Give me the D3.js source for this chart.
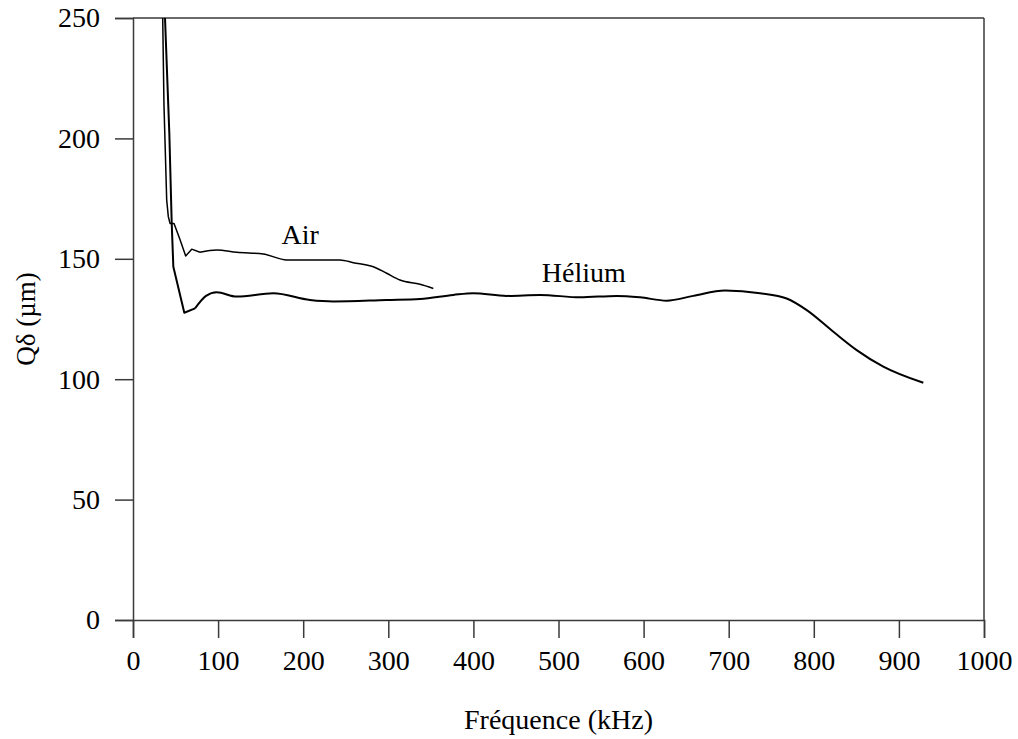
<!DOCTYPE html>
<html>
<head>
<meta charset="utf-8">
<script src="https://cdn.jsdelivr.net/npm/d3@7"></script>
<style>
  html, body { margin: 0; padding: 0; background: #fff; }
</style>
</head>
<body>
<svg id="chart" width="1018" height="739"></svg>
<script>
// ---- Data ----
const xTicks = [0, 100, 200, 300, 400, 500, 600, 700, 800, 900, 1000];
const yTicks = [0, 50, 100, 150, 200, 250];

const heliumFreq = [37.6, 42.7, 45.5, 47.4, 60.3, 72.9, 85.8, 98.4, 121.9, 164.9, 208, 235.4, 298.1, 337.3, 376.4, 399.9, 439.1, 478.3, 525.3, 568.4, 595.8, 627.1, 658.4, 695.7, 736.8, 768.1, 791.7, 823, 850.4, 881.7, 928.7];
const heliumVal  = [250, 202, 164.7, 146.7, 127.6, 129.4, 134.6, 136.1, 134.3, 135.7, 132.9, 132.3, 132.9, 133.3, 135, 135.7, 134.6, 135, 134, 134.6, 134, 132.6, 134.6, 136.8, 135.7, 133.5, 128.7, 119.7, 112.1, 105.2, 98.5];

const airFreq = [34.9, 36.4, 39.6, 41.5, 43.5, 48.2, 55.2, 61.9, 69, 78.7, 98.4, 121.9, 153.1, 180.6, 219.7, 243.2, 258.9, 282.4, 298.1, 313.7, 337.3, 352.9];
const airVal  = [250, 213.9, 174.4, 167.5, 164.7, 164.7, 158, 151.2, 154, 152.7, 153.7, 152.7, 152, 149.5, 149.5, 149.5, 148.4, 146.7, 144, 141.2, 139.4, 137.7];

const labelText = ["Air", "Hélium"];
const labelFreq = [174.6, 480.3];
const labelVal  = [156.1, 140.5];

const xTitle = "Fréquence (kHz)";
const yTitle = "Qδ (µm)";

// ---- Layout ----
const W = 1018, H = 739;
const margin = { left: 133, right: 34, top: 18, bottom: 119 };
const FONT = "Liberation Serif, Times New Roman, serif";
const svg = d3.select("#chart");
const x = d3.scaleLinear().domain([0, 1000]).range([margin.left, W - margin.right]);
const y = d3.scaleLinear().domain([0, 250]).range([H - margin.bottom, margin.top]);
const axisColor = "#3a3a3a";
const fs = 28;

// Frame (top and right)
svg.append("line").attr("x1", x(0)).attr("x2", x(1000)).attr("y1", y(250)).attr("y2", y(250))
  .attr("stroke", axisColor).attr("stroke-width", 1.5);
svg.append("line").attr("x1", x(1000)).attr("x2", x(1000)).attr("y1", y(250)).attr("y2", y(0))
  .attr("stroke", axisColor).attr("stroke-width", 1.5);

// X axis
const gx = svg.append("g").attr("transform", `translate(0,${y(0)})`)
  .call(d3.axisBottom(x).tickValues(xTicks).tickSize(18).tickPadding(12).tickFormat(d3.format("d")));
gx.attr("font-family", FONT).attr("font-size", fs);
gx.select(".domain").attr("stroke", axisColor).attr("stroke-width", 1.5);
gx.selectAll(".tick line").attr("stroke", axisColor).attr("stroke-width", 1.5);
gx.selectAll(".tick text").attr("fill", "#000");

// Y axis
const gy = svg.append("g").attr("transform", `translate(${x(0)},0)`)
  .call(d3.axisLeft(y).tickValues(yTicks).tickSize(18).tickPadding(15).tickFormat(d3.format("d")));
gy.attr("font-family", FONT).attr("font-size", fs);
gy.select(".domain").attr("stroke", axisColor).attr("stroke-width", 1.5);
gy.selectAll(".tick line").attr("stroke", axisColor).attr("stroke-width", 1.5);
gy.selectAll(".tick text").attr("fill", "#000");

// Clip to plot area
svg.append("clipPath").attr("id", "plotclip").append("rect")
  .attr("x", x(0)).attr("y", y(250)).attr("width", x(1000) - x(0)).attr("height", y(0) - y(250));

const lineLin = d3.line().x(d => x(d[0])).y(d => y(d[1])).curve(d3.curveLinear);
const lineSmooth = d3.line().x(d => x(d[0])).y(d => y(d[1])).curve(d3.curveMonotoneX);
const helium = heliumFreq.map((f, i) => [f, heliumVal[i]]);
const air = airFreq.map((f, i) => [f, airVal[i]]);

// steep start drawn with straight segments, remainder smoothed
const heBreak = 5, airBreak = 9;
const plot = svg.append("g").attr("clip-path", "url(#plotclip)");
function drawSeries(data, brk, sw) {
  plot.append("path").datum(data.slice(0, brk + 1)).attr("d", lineLin)
    .attr("fill", "none").attr("stroke", "#000").attr("stroke-width", sw).attr("stroke-linejoin", "round");
  plot.append("path").datum(data.slice(brk)).attr("d", lineSmooth)
    .attr("fill", "none").attr("stroke", "#000").attr("stroke-width", sw);
}
drawSeries(air, airBreak, 1.5);
drawSeries(helium, heBreak, 2);

// Curve labels
svg.selectAll(".clabel").data(labelText).enter().append("text")
  .attr("class", "clabel")
  .attr("x", (d, i) => x(labelFreq[i])).attr("y", (d, i) => y(labelVal[i]))
  .attr("font-size", fs).attr("font-family", FONT).text(d => d);

// Axis titles
svg.append("text").attr("x", (x(0) + x(1000)) / 2).attr("y", 729)
  .attr("text-anchor", "middle").attr("font-size", fs).attr("font-family", FONT).text(xTitle);
svg.append("text").attr("transform", `translate(35,${(y(0) + y(250)) / 2}) rotate(-90)`)
  .attr("text-anchor", "middle").attr("font-size", 27).attr("font-family", FONT).text(yTitle);
</script>
</body>
</html>
